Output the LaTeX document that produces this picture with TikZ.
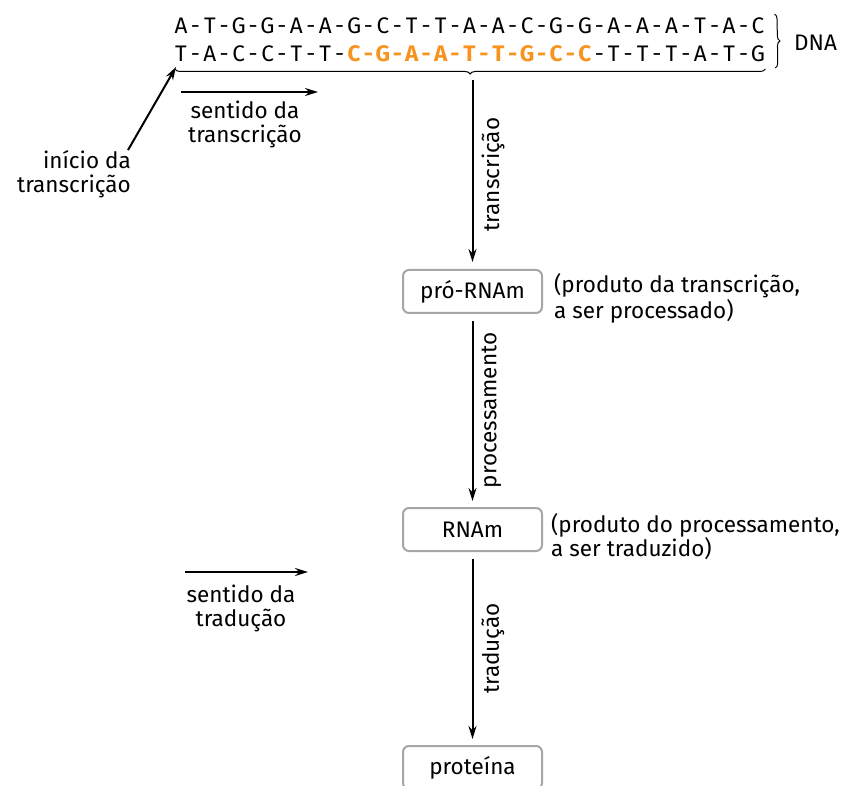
\documentclass[tikz,border=0pt]{standalone}
\usepackage{fontspec}
\setmainfont{Fira Sans}
\usetikzlibrary{arrows.meta,positioning,calc,decorations.pathreplacing}

\definecolor{seqorange}{HTML}{F7931E}
\definecolor{boxgray}{HTML}{A6A6A6}

\tikzset{
  base/.style={inner sep=0pt,anchor=base,font=\fontsize{22.5}{26}\selectfont},
  plain/.style={},
  hl/.style={text=seqorange,font=\fontsize{22.5}{26}\selectfont\bfseries},
  rnabox/.style={draw=boxgray,line width=2pt,rounded corners=6pt,minimum width=139pt,minimum height=43pt,font=\fontsize{22.5}{24}\selectfont},
  note/.style={inner sep=0pt,font=\fontsize{22.5}{24}\selectfont},
  flow/.style={-{Stealth[length=13pt,width=8pt]},line width=2pt},
}

\begin{document}
\begin{tikzpicture}[x=1pt,y=-1pt,node distance=0.4cm and 1cm]
\useasboundingbox (0,0) rectangle (854,786);

% DNA, upper strand
\foreach \b [count=\i from 0] in {A,T,G,G,A,A,G,C,T,T,A,A,C,G,G,A,A,A,T,A,C}
  \node[base] (top\i) at (181+28.85*\i,34) {\b};
\foreach \j in {0,...,19}
  \node[base] (toph\j) at (195.4+28.85*\j,34) {-};

% DNA, lower strand (orange part = gene)
\foreach \b/\s [count=\i from 0] in {T/plain,A/plain,C/plain,C/plain,T/plain,T/plain,C/hl,G/hl,A/hl,A/hl,T/hl,T/hl,G/hl,C/hl,C/hl,T/plain,T/plain,T/plain,A/plain,T/plain,G/plain}
  \node[base,\s] (bot\i) at (181+28.85*\i,62) {\b};
\foreach \j in {0,...,19}{
  \def\hs{plain}
  \ifnum\j>5 \ifnum\j<14 \def\hs{hl}\fi\fi
  \node[base,\hs] (both\j) at (195.4+28.85*\j,62) {-};
}

% braces
\draw[decorate,decoration={brace,amplitude=5pt,mirror},line width=1pt]
  ([yshift=-7pt]bot0.base west) -- ([yshift=-7pt]bot20.base east);
\coordinate (bracetip) at (472.5,80);
\draw[decorate,decoration={brace,amplitude=5pt},line width=1pt]
  ([xshift=10pt,yshift=4pt]top20.north east) -- ([xshift=10pt,yshift=-6pt]bot20.base east);
\node[note,anchor=west] (dna) at (794,43) {DNA};

% start and direction of transcription
\node[note,align=right,anchor=east] (inicio) at (131,174) {início da\\transcrição};
\draw[flow] ([xshift=-3pt]inicio.north east) -- ([xshift=1pt,yshift=-5pt]bot0.base west);

\coordinate (stA) at (181,92);
\coordinate (stB) at (318,92);
\draw[flow] (stA) -- (stB);
\node[note,align=center] (sentidoT) at (245,124) {sentido da\\transcrição};

% products
\node[rnabox] (premrna) at (472.5,291.5) {pró-RNAm};
\node[note,align=left,anchor=west] (premrnanote) at ([xshift=11pt,yshift=-7pt]premrna.east) {(produto da transcrição,\\a ser processado)};

\node[rnabox] (mrna) at (472.5,529.5) {RNAm};
\node[note,align=left,anchor=west] (mrnanote) at ([xshift=8pt,yshift=-7pt]mrna.east) {(produto do processamento,\\a ser traduzido)};

\node[rnabox] (proteina) at (472.5,767.5) {proteína};

\draw[flow,shorten >=7pt] (bracetip) -- (premrna)
  node[midway,rotate=90,anchor=north,note,inner sep=8pt] {transcrição};
\draw[flow,shorten <=7pt,shorten >=6pt] (premrna) -- (mrna)
  node[midway,rotate=90,anchor=north,note,inner sep=8pt] {processamento};
\draw[flow,shorten <=7pt,shorten >=6pt] (mrna) -- (proteina)
  node[midway,rotate=90,anchor=north,note,inner sep=8pt] {tradução};

% direction of translation
\coordinate (sdA) at (185,572);
\coordinate (sdB) at (308,572);
\draw[flow] (sdA) -- (sdB);
\node[note,align=center] (sentidoD) at (241,608) {sentido da\\tradução};

\end{tikzpicture}
\end{document}
